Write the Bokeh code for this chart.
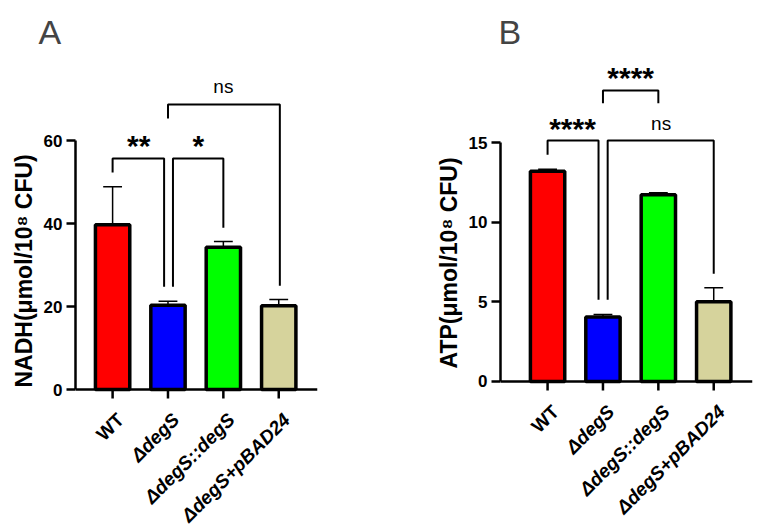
from bokeh.plotting import figure
from bokeh.layouts import row
from bokeh.models import Range1d, FixedTicker, Span, Title
from bokeh.core.properties import value
from bokeh.embed import file_html
from bokeh.resources import INLINE

groups = ["WT", "ΔdegS", "ΔdegS::degS", "ΔdegS+pBAD24"]
italic_groups = [False, True, True, True]
colors = ["#FF0000", "#0000FF", "#00FF00", "#D6D39C"]

nadh = [39.7, 20.3, 34.3, 20.2]
nadh_err = [9.2, 1.0, 1.4, 1.5]
atp = [13.2, 4.05, 11.72, 5.0]
atp_err = [0.12, 0.15, 0.13, 0.88]

nadh_ticks = [0, 20, 40, 60]
atp_ticks = [0, 5, 10, 15]

# significance brackets: (left x, right x, top y, left leg end, right leg end)
nadh_brackets = [(0, 0.93, 55.7, 52.3, 24.8),
                 (1.09, 2, 55.7, 24.8, 39.0),
                 (1, 3.02, 68.7, 65.3, 25.0)]
nadh_marks = [(0.47, 59.5, "**"), (1.55, 59.5, "*"), (2.0, 73.0, "ns")]

atp_brackets = [(0, 0.92, 15.13, 14.23, 5.13),
                (1.085, 3, 15.13, 5.13, 6.76),
                (1, 2, 18.27, 17.47, 17.47)]
atp_marks = [(0.45, 16.07, "****"), (2.05, 16.2, "ns"), (1.5, 19.3, "****")]

FONT = "Liberation Sans"


def make_panel(letter, ylabel, vals, errs, ticks, y_range, x_start,
               brackets, marks, w, h, b_left, b_right, title_off, ylabel_off):
    xs = list(range(len(groups)))
    p = figure(width=w, height=h, output_backend="svg", toolbar_location=None,
               x_range=Range1d(x_start, 3.70), y_range=Range1d(*y_range),
               min_border_left=b_left, min_border_right=b_right,
               min_border_bottom=0, min_border_top=8)
    p.grid.visible = False
    p.outline_line_color = None
    p.xaxis.visible = False

    p.title.text = letter
    p.title.text_font = FONT
    p.title.text_font_size = "34px"
    p.title.text_font_style = "normal"
    p.title.offset = title_off
    p.title.standoff = 20

    # x axis: baseline at zero, ticks hanging below each bar
    p.add_layout(Span(location=0, dimension="width", line_color="black", line_width=2.5))
    p.scatter(x=xs, y=[0] * len(xs), marker="dash", angle=1.5708, size=18,
              line_color="black", line_width=2.5)

    # error bars (upper only)
    tops = [v + e for v, e in zip(vals, errs)]
    p.segment(x0=xs, y0=vals, x1=xs, y1=tops, line_color="black", line_width=1.5)
    p.segment(x0=[x - 0.17 for x in xs], y0=tops, x1=[x + 0.17 for x in xs], y1=tops,
              line_color="black", line_width=1.5)

    p.vbar(x=xs, top=vals, width=0.62, fill_color=colors, line_color="black", line_width=3.5)

    # brackets
    bx, by = [], []
    for x0, x1, yt, yl, yr in brackets:
        bx.append([x0, x0, x1, x1])
        by.append([yl, yt, yt, yr])
    p.multi_line(xs=bx, ys=by, line_color="black", line_width=2)

    stars = [m for m in marks if m[2] != "ns"]
    ns = [m for m in marks if m[2] == "ns"]
    p.text(x=[m[0] for m in stars], y=[m[1] for m in stars], text=[m[2] for m in stars],
           text_font=value(FONT), text_font_style="bold", text_font_size="30px",
           text_align="center", text_baseline="middle", y_offset=3)
    p.text(x=[m[0] for m in ns], y=[m[1] for m in ns], text=[m[2] for m in ns],
           text_font=value(FONT), text_font_size="19px",
           text_align="center", text_baseline="middle")

    # category labels, rotated
    for italic in (False, True):
        idx = [i for i in xs if italic_groups[i] == italic]
        p.text(x=idx, y=[0] * len(idx), text=[groups[i] for i in idx], angle=0.785398,
               text_font=value(FONT), text_font_style="bold italic" if italic else "bold",
               text_font_size="19px", text_align="right", text_baseline="middle",
               x_offset=8, y_offset=27)

    ax = p.yaxis
    ax.axis_line_width = 2.5
    ax.major_tick_line_width = 2.5
    ax.major_tick_out = 9
    ax.major_tick_in = 0
    ax.minor_tick_line_color = None
    ax.major_label_text_font = FONT
    ax.major_label_text_font_style = "bold"
    ax.major_label_text_font_size = "17px"
    ax.major_label_text_color = "black"
    ax.ticker = FixedTicker(ticks=ticks)
    ax.bounds = (ticks[0], ticks[-1])
    ax.major_label_standoff = 4

    # y label as a side title so it can sit along the axis, not the whole frame
    p.add_layout(Title(text=ylabel, align="left", offset=ylabel_off, standoff=8,
                       text_font=FONT, text_font_style="bold", text_font_size="23px",
                       text_color="black"), "left")
    return p


pa = make_panel("A", "NADH(μmol/10⁸ CFU)", nadh, nadh_err, nadh_ticks, (-33.0, 79.3), -0.67,
                nadh_brackets, nadh_marks, 380, 526, 75, 63, -37, 139)
pb = make_panel("B", "ATP(μmol/10⁸ CFU)", atp, atp_err, atp_ticks, (-8.6, 20.15), -0.85,
                atp_brackets, atp_marks, 377, 518, 120, 5, -2, 150)

layout = row(pa, pb)
open("out.html", "w").write(file_html(layout, INLINE))
